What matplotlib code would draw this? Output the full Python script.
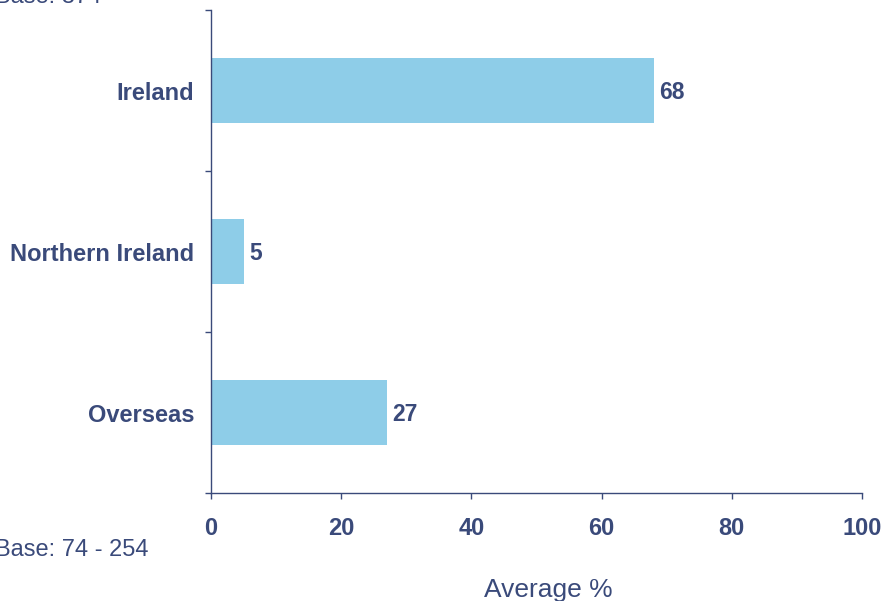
import matplotlib
matplotlib.use("Agg")
import matplotlib.pyplot as plt
import numpy as np

plt.rcParams['font.family'] = ['Liberation Sans', 'DejaVu Sans']

# data
categories = ['Ireland', 'Northern Ireland', 'Overseas']
values = [68, 5, 27]
xticks = [0, 20, 40, 60, 80, 100]

navy = '#3A4A7A'
bar_col = '#8ECDE8'

fig = plt.figure(figsize=(8.83, 6.01), dpi=100)
ax = fig.add_axes([211/883, 1 - 493/601, (862-211)/883, (493-10)/601])

ypos = np.arange(len(categories))[::-1]
ax.barh(ypos, values, height=0.4, color=bar_col, zorder=2)

for y, v in zip(ypos, values):
    ax.annotate(str(v), (v, y), xytext=(4, -1.5), textcoords='offset points',
                va='center', ha='left', fontsize=16.5, fontweight='bold', color=navy)

ax.set_xlim(0, 100)
ax.set_ylim(-0.5, 2.5)
ax.set_xticks(xticks)
ax.set_xticklabels([str(t) for t in xticks], fontsize=17, fontweight='bold', color=navy)
ax.set_yticks(ypos)
ax.set_yticklabels(categories, fontsize=17, fontweight='bold', color=navy)
ax.set_yticks([-0.5, 0.5, 1.5, 2.5], minor=True)
ax.tick_params(axis='y', which='major', length=0, pad=12)
ax.tick_params(axis='y', which='minor', length=4.5, color=navy, width=1)
ax.tick_params(axis='x', length=4.5, color=navy, width=1, pad=13)

for s in ['top', 'right']:
    ax.spines[s].set_visible(False)
for s in ['left', 'bottom']:
    ax.spines[s].set_color(navy)
    ax.spines[s].set_linewidth(1)

fig.text(-5/883, 1 - 3/601, 'Base: 374', fontsize=17, color=navy, ha='left', va='baseline')
fig.text(-5/883, 1 - 556/601, 'Base: 74 - 254', fontsize=17, color=navy, ha='left', va='baseline')
fig.text(548/883, 1 - 597/601, 'Average %', fontsize=19, color=navy, ha='center', va='baseline')

fig.savefig('out.png', dpi=100)
